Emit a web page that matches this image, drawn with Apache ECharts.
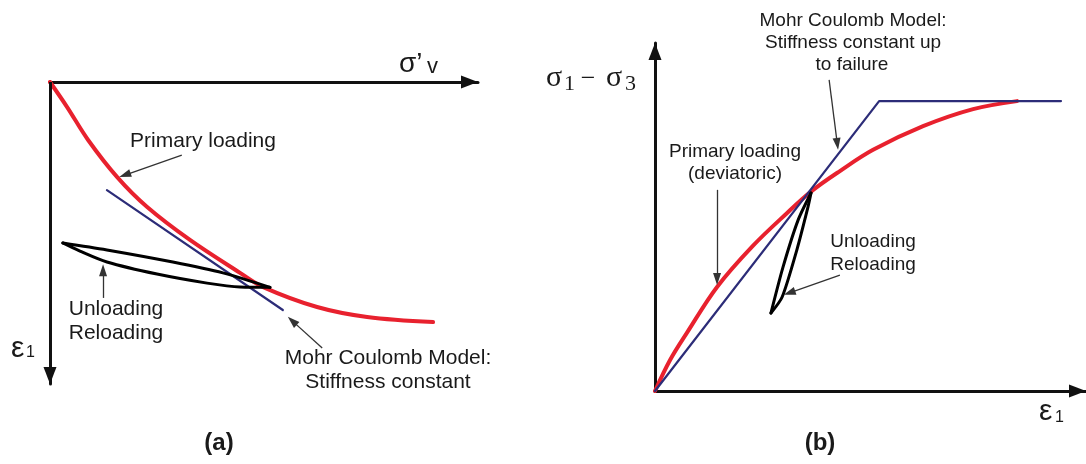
<!DOCTYPE html>
<html><head><meta charset="utf-8">
<script src="https://cdn.jsdelivr.net/npm/echarts@6/dist/echarts.min.js"></script>
<style>html,body{margin:0;padding:0;background:#fff}#c{width:1086px;height:464px}</style>
</head><body><div id="c"></div>
<script>
// ---------- Panel (a): oedometer (x: σ'v, y: ε1 downward), schematic units 0-100 ----------
const aPrimary = [[0,0],[4.0,8.3],[8.9,19.2],[15.7,31.5],[22.7,41.4],[32.7,52.3],[44.4,63.2],[49.8,67.9],[62.4,74.5],[74.1,77.8],[89.5,79.5]];
const aMohr = [[13.3,35.8],[54.4,75.5]];
const aLoopUpper = [[3.0,53.3],[13.3,55.6],[28.7,59.6],[40.4,63.2],[51.4,68.0]];
const aLoopLower = [[3.0,53.3],[7.0,56.0],[13.3,59.6],[25.0,63.6],[36.7,66.6],[44.4,67.9],[51.4,68.0]];
const aArrows = [[[30.8,24.2],[17.5,30.8]],[[12.4,71.5],[12.4,62.3]],[[63.6,88.1],[56.6,79.1]]];
const aYAxisArrow = [[0,0],[0,97.2]];

// ---------- Panel (b): triaxial (x: ε1, y: σ1−σ3), schematic units 0-100 ----------
const bPrimary = [[0,0],[3.5,8.9],[7.4,16.7],[14.4,29.9],[22.7,41.7],[30.6,51.1],[36.4,57.5],[42.9,63.2],[50.6,69.3],[62.2,76.1],[73.8,81.0],[84.0,83.3]];
const bMohr = [[0,0],[52.0,83.3],[94.2,83.3]];
const bLoopLeft = [[36.2,56.9],[33.2,49.1],[29.7,35.6],[26.9,22.4]];
const bLoopRight = [[36.2,56.9],[35.5,52.9],[32.9,40.5],[29.5,27.0],[26.9,22.4]];
const bArrows = [[[40.4,89.4],[42.3,71.0]],[[14.4,57.8],[14.4,32.2]],[[42.9,33.3],[31.2,28.2]]];

const RED = '#e8212e', BLUE = '#2c2c78', BLACK = '#000';
const SANS = 'Liberation Sans, Arial, sans-serif';
const SERIF = 'Liberation Serif, Times New Roman, serif';

function axisLine(withArrow){
  return {show:true,onZero:false,symbol:['none',withArrow?'triangle':'none'],symbolSize:[13,17],symbolOffset:[0,-8.5],
          lineStyle:{color:'#111',width:3}};
}
function hiddenBits(){return {axisTick:{show:false},axisLabel:{show:false},splitLine:{show:false}};}

function arrowMark(pairs,color,width,size){
  return {silent:true,symbol:['none','triangle'],symbolSize:size||[8,12],animation:false,
    lineStyle:{color:color||'#333',width:width||1.3,type:'solid'},label:{show:false},emphasis:{disabled:true},
    data:pairs.map(p=>[{coord:p[0]},{coord:p[1]}])};
}
function line(name,data,color,width,xi,smooth,mark){
  const s={name,type:'line',data,xAxisIndex:xi,yAxisIndex:xi,showSymbol:false,symbol:'none',smooth:smooth,
    lineStyle:{color,width,cap:'round',join:'round'},silent:true,animation:false};
  if(mark) s.markLine=mark;
  return s;
}
function txt(text,x,y,font,opts){
  return {type:'text',silent:true,style:Object.assign({text,x,y,font,fill:'#1a1a1a',
    textAlign:'center',textVerticalAlign:'middle'},opts||{})};
}

const chart = echarts.init(document.getElementById('c'),null,{renderer:'canvas'});
chart.setOption({
  backgroundColor:'#fff',
  animation:false,
  grid:[{left:50,top:82,width:428,height:302},{left:655,top:43,width:431,height:348}],
  xAxis:[Object.assign({type:'value',gridIndex:0,min:0,max:100,position:'top',axisLine:axisLine(true)},hiddenBits()),
         Object.assign({type:'value',gridIndex:1,min:0,max:100,position:'bottom',axisLine:axisLine(true)},hiddenBits())],
  yAxis:[Object.assign({type:'value',gridIndex:0,min:0,max:100,inverse:true,position:'left',axisLine:axisLine(false)},hiddenBits()),
         Object.assign({type:'value',gridIndex:1,min:0,max:100,position:'left',axisLine:axisLine(true)},hiddenBits())],
  series:[
    line('a-primary',aPrimary,RED,4,0,0.35,arrowMark([aYAxisArrow],'#111',3,[13,17])),
    line('a-mohr',aMohr,BLUE,2.2,0,false,arrowMark(aArrows)),
    line('a-loop-upper',aLoopUpper,BLACK,3,0,0.3),
    line('a-loop-lower',aLoopLower,BLACK,3,0,0.3),
    line('b-primary',bPrimary,RED,4,1,0.35),
    line('b-mohr',bMohr,BLUE,2.2,1,false,arrowMark(bArrows)),
    line('b-loop-left',bLoopLeft,BLACK,3,1,0.25),
    line('b-loop-right',bLoopRight,BLACK,3,1,0.25)
  ],
  graphic:[
    // panel (a)
    txt('σ’',399,64,'28px '+SANS,{textAlign:'left'}),
    txt('v',427,67,'22px '+SANS,{textAlign:'left'}),
    txt('ε',11,349,'30px '+SANS,{textAlign:'left'}),
    txt('1',26,353,'16px '+SANS,{textAlign:'left'}),
    txt('Primary loading',203,141,'21px '+SANS),
    txt('Unloading',116,309,'21px '+SANS),
    txt('Reloading',116,333,'21px '+SANS),
    txt('Mohr Coulomb Model:',388,358,'21px '+SANS),
    txt('Stiffness constant',388,382,'21px '+SANS),
    txt('(a)',219,443,'bold 24px '+SANS),
    // panel (b)
    txt('σ',546,78,'30px '+SERIF,{textAlign:'left'}),
    txt('1',564,84,'22px '+SERIF,{textAlign:'left'}),
    txt('−',588,79,'26px '+SERIF),
    txt('σ',606,78,'30px '+SERIF,{textAlign:'left'}),
    txt('3',625,84,'22px '+SERIF,{textAlign:'left'}),
    txt('ε',1039,412,'30px '+SANS,{textAlign:'left'}),
    txt('1',1055,418,'16px '+SANS,{textAlign:'left'}),
    txt('Mohr Coulomb Model:',853,21,'19px '+SANS),
    txt('Stiffness constant up',853,43,'19px '+SANS),
    txt('to failure',852,65,'19px '+SANS),
    txt('Primary loading',735,152,'19px '+SANS),
    txt('(deviatoric)',735,174,'19px '+SANS),
    txt('Unloading',873,242,'19px '+SANS),
    txt('Reloading',873,265,'19px '+SANS),
    txt('(b)',820,443,'bold 24px '+SANS)
  ]
});
</script>
</body></html>
